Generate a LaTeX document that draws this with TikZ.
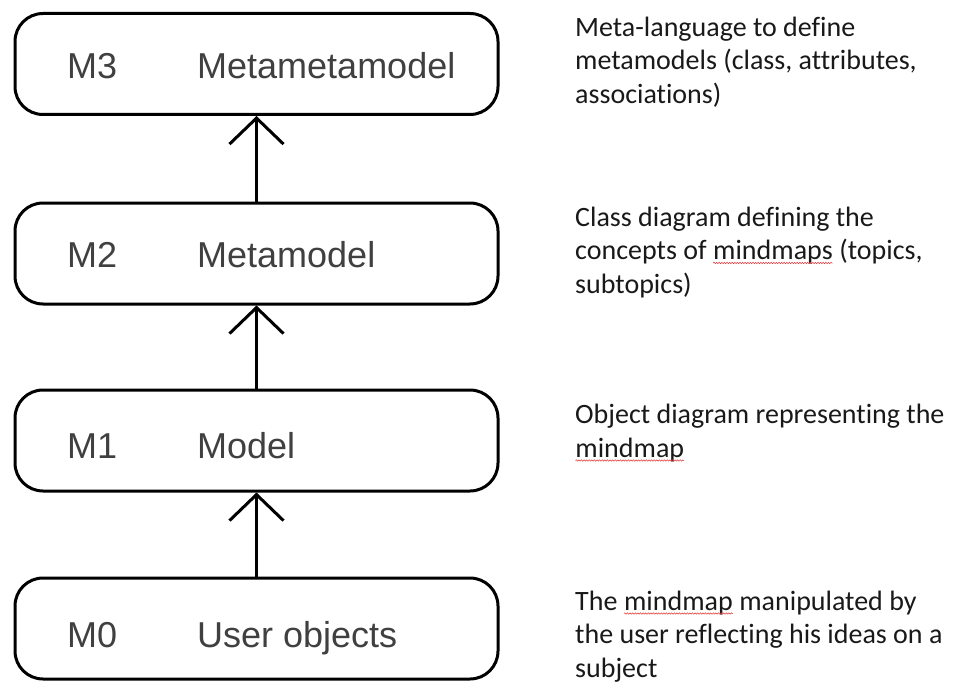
\documentclass[tikz,border=0pt]{standalone}
\usepackage{fontspec}
\setmainfont{Carlito}[Ligatures=CommonOff]
\newfontfamily\boxfont{Liberation Sans}
\usetikzlibrary{arrows.meta,decorations.pathmorphing}
\definecolor{kRed}{rgb}{0.90,0.20,0.20}
\newcommand\spellwave[1]{\tikz[baseline=(w.base)]{\node[anchor=base,inner sep=0pt,outer sep=0pt] (w) at (0,0) {#1};
  \draw[kRed,line width=0.5pt,decorate,decoration={snake,amplitude=0.7pt,segment length=2.6pt}] ([yshift=-3.5pt]w.base west) -- ([yshift=-3.5pt]w.base east);}}

\begin{document}
\begin{tikzpicture}[x=1pt,y=-1pt,
  metabox/.style={draw=black,line width=3pt,rounded corners=28pt,minimum width=483pt,minimum height=101pt,inner sep=0pt},
  levelname/.style={anchor=base west,inner sep=0pt,text=kGrey,font=\boxfont\fontsize{36}{40}\selectfont},
  note/.style={anchor=base west,inner sep=0pt,align=left,text=kInk,font=\fontsize{28}{33.5}\selectfont},
  lift/.style={line width=3pt,-{Straight Barb[length=26pt,width=54pt]}}]
  \definecolor{kGrey}{rgb}{0.25,0.25,0.25}
  \definecolor{kInk}{rgb}{0.10,0.10,0.10}
  \useasboundingbox (0,0) rectangle (954,685);

  % the four levels
  \foreach \lvl/\cy/\by/\name in {3/64/79/Metametamodel,
                                 2/253.5/267/Metamodel,
                                 1/440.5/458/Model,
                                 0/628.5/647/User objects}
  {
    \node[metabox] (m\lvl) at (256.5,\cy) {};
    \node[levelname] (k\lvl) at (67,\by) {M\lvl};
    \node[levelname] (t\lvl) at (197,\by) {\name};
  }

  % instance-of arrows
  \foreach \lo/\hi in {0/1,1/2,2/3}
    \draw[lift] (m\lo) -- (m\hi);

  % descriptions (anchored on their last line)
  \node[note] (d3) at (575,103) {Meta-language to define\\metamodels (class, attributes,\\associations)};
  \node[note] (d2) at (575,293) {Class diagram defining the\\concepts of \spellwave{mindmaps} (topics,\\subtopics)};
  \node[note] (d1) at (575,457) {Object diagram representing the\\\spellwave{mindmap}};
  \node[note] (d0) at (575,677) {The \spellwave{mindmap} manipulated by\\the user reflecting his ideas on a\\subject};
\end{tikzpicture}
\end{document}
